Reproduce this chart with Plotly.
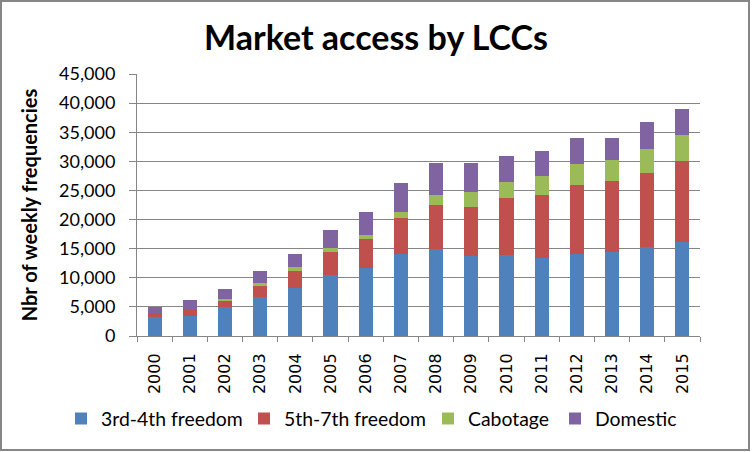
import plotly.graph_objects as go

years = [str(y) for y in range(2000, 2016)]
freedom_34 = [3200, 3500, 5000, 6630, 8300, 10500, 11730, 14100, 15000, 13680, 13850, 13450, 14140, 14480, 15340, 16080]
freedom_57 = [750, 1000, 1100, 2070, 2900, 4000, 4930, 6200, 7550, 8520, 9800, 10820, 11850, 12190, 12710, 14020]
cabotage = [50, 50, 250, 340, 700, 550, 740, 1050, 1720, 2600, 2750, 3130, 3610, 3490, 4000, 4500]
domestic = [1000, 1550, 1770, 2160, 2200, 3210, 3950, 4850, 5500, 4970, 4570, 4430, 4460, 3900, 4650, 4440]

series = [
    ("3rd-4th freedom", freedom_34, "#4F81BD", 138),
    ("5th-7th freedom", freedom_57, "#C0504D", 139),
    ("Cabotage", cabotage, "#9BBB59", 82),
    ("Domestic", domestic, "#8064A2", 90),
]

fig = go.Figure()
for name, vals, col, lw in series:
    fig.add_trace(go.Bar(x=years, y=vals, name=name, legendwidth=lw,
                         marker=dict(color=col, line=dict(width=0))))

W, H = 752, 452
L, R, T, B = 137, 52, 74, 116
pw, ph = W - L - R, H - T - B

fig.update_layout(
    width=W, height=H,
    barmode="stack", bargap=0.6,
    paper_bgcolor="white", plot_bgcolor="white",
    margin=dict(l=L, r=R, t=T, b=B, pad=0, autoexpand=False),
    font=dict(family="Liberation Sans, Arial, sans-serif", color="black", size=16),
    title=dict(text="<b>Market access by LCCs</b>", x=0.5, xanchor="center", y=0.916, yanchor="middle",
               font=dict(family="Lato, Open Sans, sans-serif", size=34, color="black")),
    legend=dict(orientation="h", x=(61 - L) / pw, xanchor="left", y=(H - B - 419) / ph, yanchor="middle",
                font=dict(family="Lato, Open Sans, sans-serif", size=19.4), itemwidth=30,
                traceorder="normal", bgcolor="rgba(0,0,0,0)"),
    xaxis=dict(type="category", tickangle=-90, ticks="outside", tickson="boundaries", ticklen=5,
               tickcolor="#868686", showline=True, linecolor="#868686", linewidth=1,
               ticklabelstandoff=10,
               tickfont=dict(family="DejaVu Sans, sans-serif", size=16), showgrid=False),
    yaxis=dict(range=[0, 45000], dtick=5000, tickformat=",", showgrid=True, gridcolor="#868686", gridwidth=1,
               showline=True, linecolor="#868686", linewidth=1, ticks="outside", ticklen=7, tickcolor="#868686",
               ticklabelstandoff=10,
               tickfont=dict(family="Lato, Open Sans, sans-serif", size=18),
               title=dict(text="<b>Nbr of weekly frequencies</b>", standoff=16,
                          font=dict(family="Lato, Open Sans, sans-serif", size=20))),
    shapes=[dict(type="rect", xref="paper", yref="paper",
                 x0=(1 - L) / pw, x1=(W - 3 - L) / pw,
                 y0=(H - B - (H - 2)) / ph, y1=(H - B - 1) / ph,
                 line=dict(color="#868686", width=2), fillcolor="rgba(0,0,0,0)", layer="below")],
)

fig.write_html("out.html", config={"displayModeBar": False},
               post_script="document.body.style.margin='0px';document.body.style.overflow='hidden';")
